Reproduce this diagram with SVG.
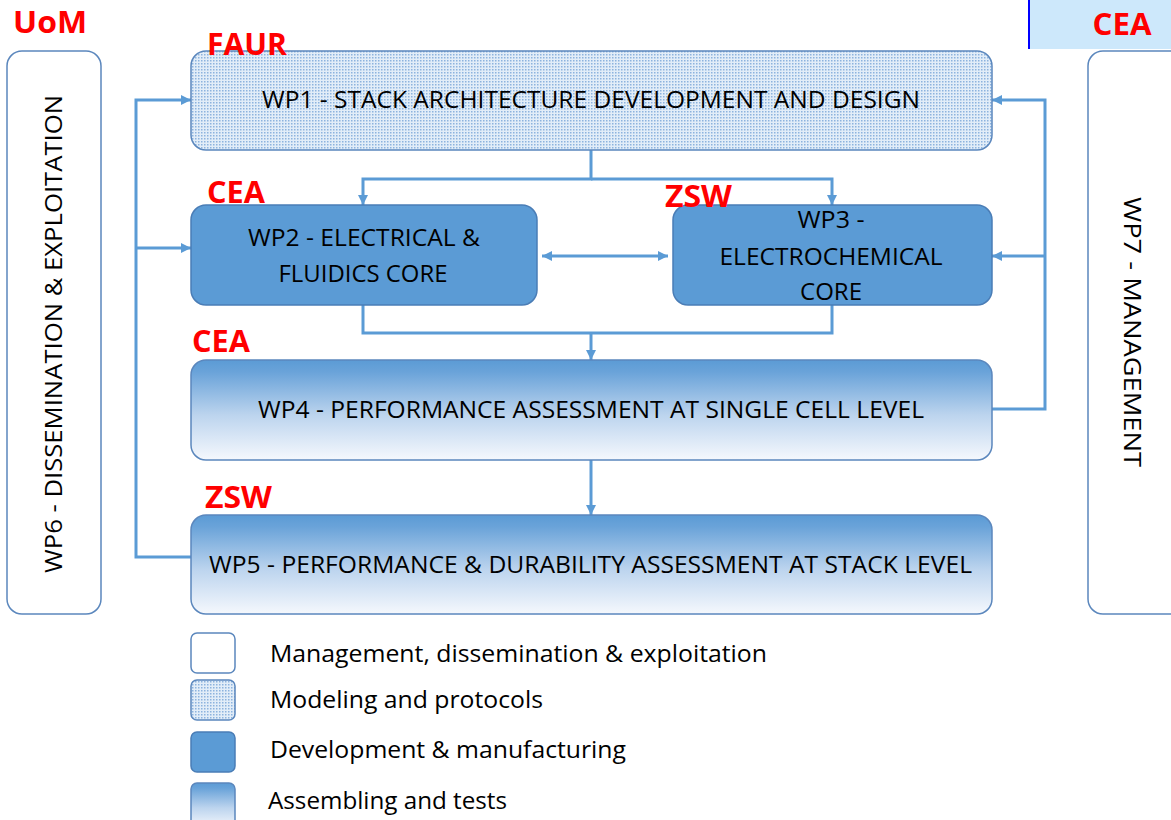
<svg xmlns="http://www.w3.org/2000/svg" width="1171" height="820" viewBox="0 0 1171 820">
  <style>
    .lbl { font-family: "Open Sans", "Liberation Sans", sans-serif; font-size: 24px; fill: #000; }
    .org { font-family: "Open Sans", "Liberation Sans", sans-serif; font-size: 30px; font-weight: bold; fill: #ff0000; }
    .leg { font-family: "Open Sans", "Liberation Sans", sans-serif; font-size: 23px; fill: #000; }
    .plain { fill: #ffffff; stroke: #5b87bd; stroke-width: 1.5; }
    .model { fill: url(#dots); stroke: #5b87bd; stroke-width: 1.5; }
    .dev { fill: #5b9bd5; stroke: #4a7db6; stroke-width: 1.5; }
    .test { fill: url(#fade); stroke: #5b87bd; stroke-width: 1.5; }
    .wire { fill: none; stroke: #5b9bd5; stroke-width: 3; }
    .arr { marker-end: url(#head); }
  </style>
  <defs>
    <pattern id="dots" width="3" height="3" patternUnits="userSpaceOnUse">
      <rect width="3" height="3" fill="#e2edf8"/>
      <rect x="0" y="0" width="1.5" height="1.5" fill="#8db3de"/>
    </pattern>
    <linearGradient id="fade" x1="0" y1="0" x2="0" y2="1">
      <stop offset="0" stop-color="#5b9bd5"/>
      <stop offset="0.12" stop-color="#6aa3d9"/>
      <stop offset="0.55" stop-color="#bcd4ee"/>
      <stop offset="1" stop-color="#f5f8fd"/>
    </linearGradient>
    <marker id="head" viewBox="0 0 10 10" refX="10" refY="5" markerWidth="11" markerHeight="10" markerUnits="userSpaceOnUse" orient="auto-start-reverse">
      <path d="M0,0 L10,5 L0,10 z" fill="#5b9bd5"/>
    </marker>
  </defs>

  <!-- partner header on the right -->
  <g id="cea-header">
    <rect x="1028" y="0" width="143" height="49" fill="#cde8fb"/>
    <line x1="1029" y1="0" x2="1029" y2="49" stroke="#0000ff" stroke-width="2"/>
    <text class="org" x="1122" y="35" text-anchor="middle" textLength="59" lengthAdjust="spacingAndGlyphs">CEA</text>
  </g>

  <!-- connectors -->
  <g id="connectors">
    <path class="wire arr" d="M191,557 H136 V100 H191"/>
    <path class="wire arr" d="M136,248 H191"/>
    <path class="wire arr" d="M992,409 H1045 V100 H992"/>
    <path class="wire arr" d="M1045,256 H992"/>
    <path class="wire arr" d="M591,150 V179 H363 V205"/>
    <path class="wire arr" d="M591,179 H832 V205"/>
    <path class="wire arr" d="M542,256 H668" marker-start="url(#head)"/>
    <path class="wire" d="M363,305 V333 H832 V305"/>
    <path class="wire arr" d="M591,333 V360"/>
    <path class="wire arr" d="M591,460 V515"/>
  </g>

  <g id="wp6">
    <rect class="plain" x="7" y="51" width="94" height="563" rx="15"/>
    <text class="lbl" transform="translate(62,334) rotate(-90)" text-anchor="middle" textLength="478" lengthAdjust="spacingAndGlyphs">WP6 - DISSEMINATION &amp; EXPLOITATION</text>
    <text class="org" x="13" y="33" textLength="74" lengthAdjust="spacingAndGlyphs">UoM</text>
  </g>

  <g id="wp7">
    <rect class="plain" x="1088" y="51" width="100" height="563" rx="15"/>
    <text class="lbl" transform="translate(1124,332) rotate(90)" text-anchor="middle" textLength="270" lengthAdjust="spacingAndGlyphs">WP7 - MANAGEMENT</text>
  </g>

  <g id="wp1">
    <rect class="model" x="191" y="51" width="801" height="99" rx="15"/>
    <text class="lbl" x="591" y="108" text-anchor="middle" textLength="658" lengthAdjust="spacingAndGlyphs">WP1 - STACK ARCHITECTURE DEVELOPMENT AND DESIGN</text>
    <text class="org" x="207" y="55" textLength="80" lengthAdjust="spacingAndGlyphs">FAUR</text>
  </g>

  <g id="wp2">
    <rect class="dev" x="191" y="205" width="346" height="100" rx="15"/>
    <text class="lbl" x="364" y="246" text-anchor="middle" textLength="232" lengthAdjust="spacingAndGlyphs">WP2 - ELECTRICAL &amp;</text>
    <text class="lbl" x="363" y="282" text-anchor="middle" textLength="169" lengthAdjust="spacingAndGlyphs">FLUIDICS CORE</text>
    <text class="org" x="207" y="203" textLength="58" lengthAdjust="spacingAndGlyphs">CEA</text>
  </g>

  <g id="wp3">
    <rect class="dev" x="673" y="205" width="319" height="100" rx="15"/>
    <text class="lbl" x="831" y="228" text-anchor="middle" textLength="67" lengthAdjust="spacingAndGlyphs">WP3 -</text>
    <text class="lbl" x="831" y="265" text-anchor="middle" textLength="223" lengthAdjust="spacingAndGlyphs">ELECTROCHEMICAL</text>
    <text class="lbl" x="831" y="300" text-anchor="middle" textLength="62" lengthAdjust="spacingAndGlyphs">CORE</text>
    <text class="org" x="665" y="207" textLength="67" lengthAdjust="spacingAndGlyphs">ZSW</text>
  </g>

  <g id="wp4">
    <rect class="test" x="191" y="360" width="801" height="100" rx="15"/>
    <text class="lbl" x="591" y="418" text-anchor="middle" textLength="666" lengthAdjust="spacingAndGlyphs">WP4 - PERFORMANCE ASSESSMENT AT SINGLE CELL LEVEL</text>
    <text class="org" x="192" y="352" textLength="58" lengthAdjust="spacingAndGlyphs">CEA</text>
  </g>

  <g id="wp5">
    <rect class="test" x="191" y="515" width="801" height="99" rx="15"/>
    <text class="lbl" x="590.5" y="573" text-anchor="middle" textLength="763" lengthAdjust="spacingAndGlyphs">WP5 - PERFORMANCE &amp; DURABILITY ASSESSMENT AT STACK LEVEL</text>
    <text class="org" x="205" y="508" textLength="67" lengthAdjust="spacingAndGlyphs">ZSW</text>
  </g>

  <!-- legend -->
  <g id="legend">
    <rect class="plain" x="191" y="633" width="44" height="40" rx="6"/>
    <text class="leg" x="270" y="662" textLength="497" lengthAdjust="spacingAndGlyphs">Management, dissemination &amp; exploitation</text>
    <rect class="model" x="191" y="680" width="44" height="40" rx="6"/>
    <text class="leg" x="270" y="708" textLength="273" lengthAdjust="spacingAndGlyphs">Modeling and protocols</text>
    <rect class="dev" x="191" y="732" width="44" height="40" rx="6"/>
    <text class="leg" x="270" y="758" textLength="356" lengthAdjust="spacingAndGlyphs">Development &amp; manufacturing</text>
    <rect class="test" x="191" y="783" width="44" height="45" rx="6"/>
    <text class="leg" x="268" y="809" textLength="239" lengthAdjust="spacingAndGlyphs">Assembling and tests</text>
  </g>
</svg>
